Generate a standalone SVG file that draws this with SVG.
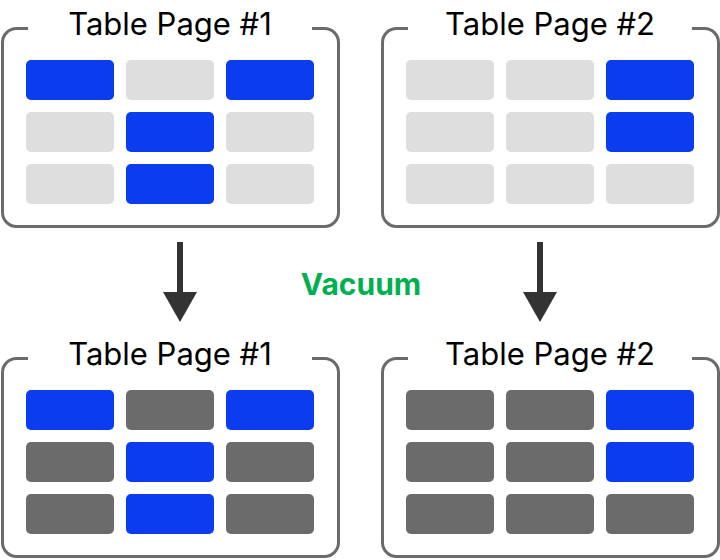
<svg xmlns="http://www.w3.org/2000/svg" width="720" height="560" viewBox="0 0 720 560">
<style>
.frame{fill:none;stroke:#6b6b6b;stroke-width:3}
.gap{fill:#fff}
.t{font-family:Inter,"Liberation Sans",sans-serif;font-size:31px;fill:#000;text-anchor:middle}
.b{fill:#0b3cf0}.l{fill:#dedede}.d{fill:#6b6b6b}
.a{fill:#333}
</style>
<rect width="720" height="560" fill="#fff"/>
<g id="tp1">
<rect class="frame" x="2.5" y="28.5" width="336" height="198" rx="14"/>
<rect class="gap" x="28" y="20" width="284" height="20"/>
<text class="t" x="170" y="35">Table Page #1</text>
<rect class="b" x="26" y="60" width="88" height="40" rx="5"/><rect class="l" x="126" y="60" width="88" height="40" rx="5"/><rect class="b" x="226" y="60" width="88" height="40" rx="5"/>
<rect class="l" x="26" y="112" width="88" height="40" rx="5"/><rect class="b" x="126" y="112" width="88" height="40" rx="5"/><rect class="l" x="226" y="112" width="88" height="40" rx="5"/>
<rect class="l" x="26" y="164" width="88" height="40" rx="5"/><rect class="b" x="126" y="164" width="88" height="40" rx="5"/><rect class="l" x="226" y="164" width="88" height="40" rx="5"/>
</g>
<g id="tp2">
<rect class="frame" x="382.5" y="28.5" width="336" height="198" rx="14"/>
<rect class="gap" x="408" y="20" width="284" height="20"/>
<text class="t" x="550" y="35">Table Page #2</text>
<rect class="l" x="406" y="60" width="88" height="40" rx="5"/><rect class="l" x="506" y="60" width="88" height="40" rx="5"/><rect class="b" x="606" y="60" width="88" height="40" rx="5"/>
<rect class="l" x="406" y="112" width="88" height="40" rx="5"/><rect class="l" x="506" y="112" width="88" height="40" rx="5"/><rect class="b" x="606" y="112" width="88" height="40" rx="5"/>
<rect class="l" x="406" y="164" width="88" height="40" rx="5"/><rect class="l" x="506" y="164" width="88" height="40" rx="5"/><rect class="l" x="606" y="164" width="88" height="40" rx="5"/>
</g>
<g id="bp1">
<rect class="frame" x="2.5" y="358.5" width="336" height="198" rx="14"/>
<rect class="gap" x="28" y="350" width="284" height="20"/>
<text class="t" x="170" y="365">Table Page #1</text>
<rect class="b" x="26" y="390" width="88" height="40" rx="5"/><rect class="d" x="126" y="390" width="88" height="40" rx="5"/><rect class="b" x="226" y="390" width="88" height="40" rx="5"/>
<rect class="d" x="26" y="442" width="88" height="40" rx="5"/><rect class="b" x="126" y="442" width="88" height="40" rx="5"/><rect class="d" x="226" y="442" width="88" height="40" rx="5"/>
<rect class="d" x="26" y="494" width="88" height="40" rx="5"/><rect class="b" x="126" y="494" width="88" height="40" rx="5"/><rect class="d" x="226" y="494" width="88" height="40" rx="5"/>
</g>
<g id="bp2">
<rect class="frame" x="382.5" y="358.5" width="336" height="198" rx="14"/>
<rect class="gap" x="408" y="350" width="284" height="20"/>
<text class="t" x="550" y="365">Table Page #2</text>
<rect class="d" x="406" y="390" width="88" height="40" rx="5"/><rect class="d" x="506" y="390" width="88" height="40" rx="5"/><rect class="b" x="606" y="390" width="88" height="40" rx="5"/>
<rect class="d" x="406" y="442" width="88" height="40" rx="5"/><rect class="d" x="506" y="442" width="88" height="40" rx="5"/><rect class="b" x="606" y="442" width="88" height="40" rx="5"/>
<rect class="d" x="406" y="494" width="88" height="40" rx="5"/><rect class="d" x="506" y="494" width="88" height="40" rx="5"/><rect class="d" x="606" y="494" width="88" height="40" rx="5"/>
</g>
<g id="connectors">
<rect class="a" x="177" y="242" width="6" height="52"/><polygon class="a" points="163,292 197,292 180,322"/>
<rect class="a" x="537" y="242" width="6" height="52"/><polygon class="a" points="523,292 557,292 540,322"/>
<text x="361" y="295" text-anchor="middle" font-family="Inter,'Liberation Sans',sans-serif" font-weight="bold" font-size="30" fill="#00b050">Vacuum</text>
</g>
</svg>
